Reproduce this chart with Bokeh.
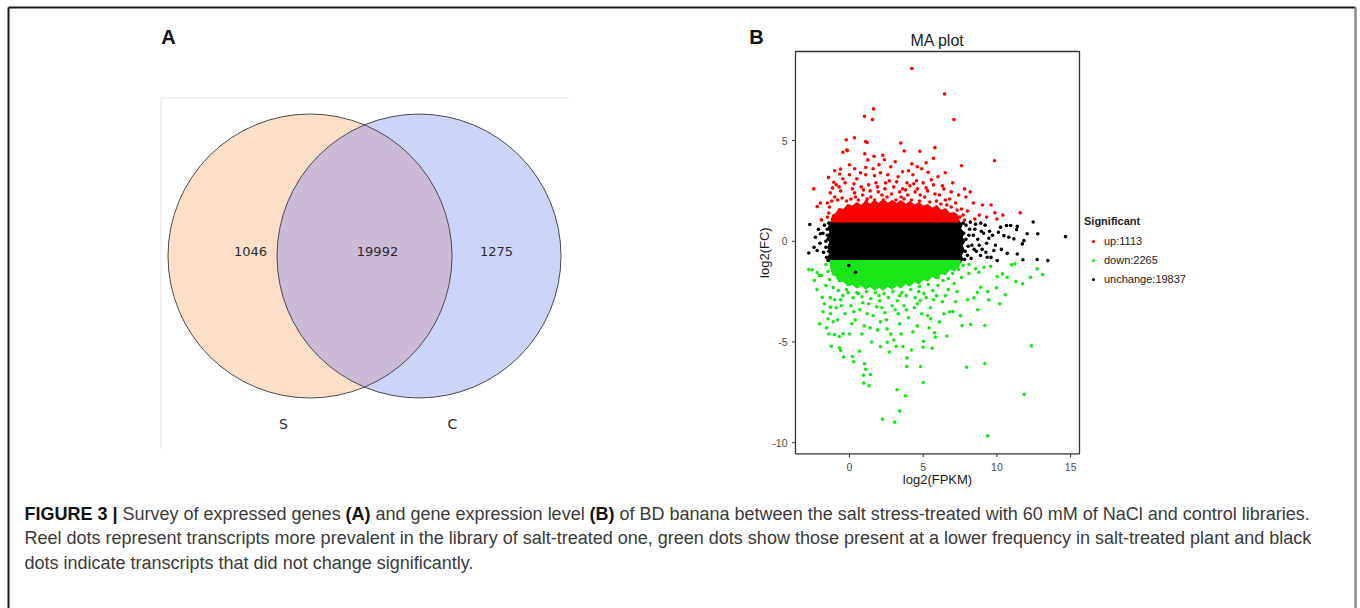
import numpy as np
from bokeh.plotting import figure
from bokeh.models import Range1d, Legend, LegendItem
from bokeh.embed import file_html
from bokeh.resources import INLINE
from bokeh.core.properties import value

# ---------------- data ----------------
venn_sets = ["S", "C"]
venn_counts = [1046, 19992, 1275]          # S only, shared, C only

legend_title = "Significant"
legend_labels = ["up:1113", "down:2265", "unchange:19837"]
x_ticks = [0, 5, 10, 15]
y_ticks = [-10, -5, 0, 5]
x_lim = (-3.66, 15.6)
y_lim = (-10.55, 9.42)

# red (up) points (log2 FPKM, log2 FC)
up_pts = [(4.23, 8.58), (6.45, 7.31), (7.08, 6.04), (1.63, 6.57), (1.02, 6.20), (1.56, 6.04),
          (-0.22, 5.04), (0.34, 5.14), (1.09, 4.95), (1.20, 4.90), (-0.45, 4.42), (-0.18, 4.53),
          (1.04, 4.34), (1.67, 4.22), (1.24, 4.04), (2.26, 4.27), (2.37, 4.05), (3.48, 4.88),
          (3.71, 4.48), (4.23, 3.84), (4.77, 4.47), (5.79, 4.65), (5.70, 4.12), (7.60, 3.75),
          (9.84, 4.00), (0.00, 3.80), (1.11, 3.66), (-1.42, 3.17), (-2.42, 2.60), (5.34, 3.42),
          (7.00, 2.90), (8.19, 2.45), (9.02, 1.80), (9.86, 1.41), (11.58, 1.41), (-2.19, 1.72),
          (-1.97, 1.90), (4.36, 2.85), (-0.15, 4.50), (-0.61, 3.59), (-0.66, 3.34), (-1.06, 2.93),
          (-1.15, 2.65), (-1.90, 1.06),
          (-1.0, 2.2), (-0.6, 2.5), (-0.3, 2.9), (0.2, 2.6), (0.5, 3.1), (0.8, 2.7), (1.1, 3.3),
          (1.4, 2.5), (1.8, 2.9), (2.1, 3.4), (2.4, 2.6), (2.7, 3.0), (3.0, 2.7), (3.3, 3.2),
          (3.6, 2.6), (3.9, 2.9), (4.3, 3.3), (4.6, 2.6), (5.0, 2.9), (5.3, 2.5), (5.7, 2.8),
          (6.1, 2.3), (6.4, 2.6), (6.8, 2.1), (7.2, 1.9), (7.6, 1.6), (8.0, 1.5), (8.4, 1.9),
          (-1.5, 1.9), (-1.3, 2.4), (0.0, 3.3), (1.6, 3.6), (2.8, 3.7), (4.0, 3.5), (4.9, 3.6),
          (6.0, 3.2), (-0.9, 2.8), (2.2, 2.3), (3.5, 2.2), (4.8, 2.3), (0.4, 2.2), (1.2, 2.1),
          (5.9, 2.0), (6.6, 1.8), (7.9, 2.2), (8.8, 1.3), (9.3, 1.2), (10.4, 1.3),
          (-1.2, 2.0), (-0.8, 2.05), (-0.5, 2.15), (-0.2, 2.0), (0.1, 2.1), (0.35, 2.4), (0.6, 2.05),
          (0.9, 2.3), (1.15, 2.0), (1.45, 2.2), (1.7, 2.05), (1.95, 2.45), (2.3, 2.05), (2.55, 2.2),
          (2.85, 2.35), (3.15, 2.05), (3.4, 2.45), (3.7, 2.1), (3.95, 2.3), (4.2, 2.05), (4.45, 2.45),
          (4.75, 2.0), (5.1, 2.2), (5.45, 1.95), (5.8, 2.35), (6.2, 1.85), (6.5, 2.05), (6.9, 1.7),
          (7.3, 1.55), (7.5, 1.2), (7.7, 1.3), (-1.4, 1.4), (-1.5, 1.2), (-1.35, 1.7),
          (-0.7, 2.7), (0.3, 2.85), (0.95, 2.55), (1.3, 2.8), (1.9, 2.7), (2.45, 2.9), (3.2, 2.95),
          (3.8, 2.55), (4.1, 2.75), (4.55, 3.0), (5.2, 2.65), (5.55, 3.05), (6.3, 2.75), (6.9, 2.45),
          (7.4, 2.3), (-0.45, 3.1), (0.75, 3.4), (1.7, 3.25), (2.6, 3.3), (3.6, 3.45), (4.6, 3.7),
          (5.2, 3.9), (-1.0, 3.5), (0.35, 3.6), (2.0, 3.8), (3.1, 3.95), (6.5, 3.4), (7.8, 2.6),
          (8.5, 1.1), (7.8, 1.05), (9.6, 1.8), (10.0, 1.1)]

# green (down) points
down_pts = [(9.36, -9.65), (3.07, -8.98), (2.24, -8.83), (3.41, -8.43), (3.23, -7.37), (3.80, -7.67),
            (5.00, -7.01), (4.82, -6.22), (3.89, -6.22), (7.94, -6.25), (9.18, -6.07), (11.85, -7.60),
            (12.33, -5.19), (0.97, -7.04), (1.33, -7.17), (0.95, -6.65), (1.42, -6.61), (1.02, -6.08),
            (1.09, -6.35), (0.20, -5.72), (0.29, -5.98), (0.68, -5.46), (-0.59, -5.42), (-0.68, -5.29),
            (-0.39, -5.75), (-1.24, -5.21), (-1.02, -4.63), (-0.68, -4.73), (-0.43, -4.59), (-2.04, -4.10),
            (-1.56, -4.30), (2.10, -5.22), (2.56, -5.01), (3.17, -5.21), (3.62, -5.22), (5.02, -4.96),
            (5.00, -5.26), (5.61, -5.31), (5.77, -4.54), (5.83, -4.76), (5.50, -3.85), (7.01, -3.49),
            (7.53, -3.69), (7.64, -4.18), (8.21, -4.13), (9.18, -4.18), (9.45, -2.91), (9.38, -2.50),
            (9.97, -2.31), (10.56, -2.66), (11.29, -2.00), (11.74, -2.11), (13.10, -1.65), (12.73, -1.37),
            (12.28, -1.79), (10.02, -1.75), (10.38, -1.62), (10.70, -1.79), (10.99, -1.17), (11.22, -1.12),
            (8.67, -2.54), (8.44, -2.81), (8.89, -2.28), (9.12, -1.29), (9.57, -1.24), (8.55, -1.37),
            (8.77, -1.54), (-2.53, -1.42), (-2.76, -1.40), (-1.45, -3.85), (-1.29, -3.60), (-1.29, -3.27),
            (-1.70, -3.10), (-1.85, -2.78), (-2.06, -1.70), (-2.19, -1.55), (-2.37, -1.95),
            (-1.6, -2.2), (-1.3, -2.8), (-0.9, -3.3), (-0.6, -2.9), (-0.3, -3.6), (0.1, -3.2),
            (0.4, -3.9), (0.7, -3.4), (1.0, -4.2), (1.3, -3.1), (1.6, -3.7), (1.9, -4.4), (2.2, -3.3),
            (2.5, -3.9), (2.8, -4.6), (3.1, -3.4), (3.4, -4.1), (3.7, -3.2), (4.0, -3.8), (4.3, -4.5),
            (4.6, -3.1), (4.9, -3.6), (5.2, -2.8), (5.5, -3.3), (5.9, -2.7), (6.3, -3.0), (6.7, -2.4),
            (7.1, -2.1), (7.6, -1.8), (8.1, -1.6), (-1.9, -1.7), (-2.2, -2.4), (-1.1, -4.0), (0.0, -4.6),
            (1.5, -5.0), (3.0, -4.9), (4.2, -5.4), (6.1, -4.0), (6.8, -3.5), (8.0, -2.9), (2.0, -2.7),
            (3.4, -2.7), (0.6, -2.6), (-0.2, -2.4), (4.7, -2.5), (6.0, -1.8),
            (-1.45, -1.5), (-1.6, -1.15), (-1.35, -1.9), (-1.1, -2.3), (-0.75, -2.45), (-0.45, -2.7),
            (-0.1, -2.55), (0.25, -2.8), (0.5, -2.55), (0.85, -2.75), (1.15, -2.5), (1.45, -2.85),
            (1.75, -2.55), (2.05, -2.95), (2.35, -2.6), (2.65, -2.8), (2.95, -2.5), (3.25, -2.95),
            (3.55, -2.55), (3.85, -2.7), (4.15, -2.4), (4.45, -2.8), (4.75, -2.25), (5.05, -2.6),
            (5.35, -2.15), (5.65, -2.45), (6.0, -2.2), (6.35, -1.95), (6.7, -1.85), (7.0, -1.6),
            (7.4, -1.4), (7.7, -1.2), (8.1, -1.15),
            (-1.0, -2.9), (-0.55, -3.2), (0.3, -3.5), (0.9, -3.05), (1.2, -3.6), (1.85, -3.25),
            (2.4, -3.55), (2.9, -3.2), (3.3, -3.6), (3.85, -3.4), (4.4, -3.3), (4.8, -2.95), (5.3, -3.7),
            (5.7, -2.9), (6.5, -2.7), (7.3, -2.5), (-0.8, -3.9), (0.15, -4.1), (0.85, -4.6), (1.4, -4.3),
            (2.1, -4.0), (2.55, -4.35), (3.5, -4.6), (4.6, -4.2), (5.4, -4.3), (6.4, -3.6), (7.2, -3.0),
            (-1.8, -3.5), (-1.4, -4.6), (2.7, -5.5), (3.9, -5.8), (6.6, -4.7), (8.7, -3.4), (10.2, -3.1)]

# black (unchanged) points
same_pts = [(14.65, 0.23), (13.45, -0.96), (12.73, -0.91), (12.46, 0.96), (12.77, 0.37), (12.05, 0.37),
            (11.83, 0.03), (11.72, -0.13), (11.38, 0.74), (11.33, 0.58), (11.38, -0.63), (10.70, -0.60),
            (10.93, 0.78), (10.65, 0.78), (10.24, 0.70), (10.81, 0.20), (10.47, 0.28), (11.15, 0.12),
            (11.76, -0.92), (10.02, -0.96), (9.34, -0.79), (9.79, -0.46), (8.89, -0.71), (-2.69, 0.83),
            (-2.76, -0.58), (-2.31, 0.20), (-2.19, -0.46), (-1.97, 0.37), (0.41, -1.54), (-0.05, -1.20),
            (7.9, 0.8), (8.1, 0.3), (8.3, -0.2), (8.0, -0.7), (8.5, 0.6), (8.7, 0.1), (8.6, -0.5),
            (8.9, 0.9), (9.1, 0.4), (9.3, -0.1), (9.0, -0.4), (9.5, 0.5), (9.6, -0.8), (7.8, -0.9),
            (8.2, 0.95), (-1.5, 0.6), (-1.6, -0.3), (-1.45, 0.1), (-1.7, 0.8), (-1.55, -0.8),
            (-2.0, -0.1), (-1.8, 0.4),
            (-1.4, 0.9), (-1.5, 0.3), (-1.4, -0.5), (-1.45, -0.95), (-1.6, 0.0), (-1.75, -0.55),
            (-2.1, 0.6), (-2.4, -0.3), (7.7, 0.9), (7.75, 0.4), (7.85, -0.5), (7.9, 0.1), (8.05, -0.25),
            (8.15, 0.6), (8.25, -0.85), (8.4, 0.3), (8.45, -0.4), (8.55, 0.85), (8.8, -0.2), (8.95, 0.5),
            (9.2, 0.8), (9.25, -0.55), (9.45, 0.15), (9.7, 0.3), (9.9, -0.2), (10.1, 0.45), (10.3, -0.4)]

# ragged envelopes of the densely packed clouds
up_core = [(-1.2, 0.98), (7.4, 0.98), (7.35, 1.25), (7.1, 1.4), (6.8, 1.35), (6.5, 1.6), (6.2, 1.5),
           (5.9, 1.75), (5.6, 1.6), (5.3, 1.8), (5.0, 1.7), (4.7, 1.9), (4.4, 1.75), (4.1, 1.95),
           (3.8, 1.8), (3.5, 2.0), (3.2, 1.85), (2.9, 2.0), (2.6, 1.85), (2.3, 2.05), (2.0, 1.85),
           (1.7, 2.0), (1.4, 1.8), (1.1, 1.95), (0.8, 1.75), (0.5, 1.9), (0.2, 1.7), (-0.1, 1.8),
           (-0.4, 1.55), (-0.7, 1.6), (-0.9, 1.35), (-1.1, 1.3), (-1.2, 1.1)]
same_core = [(-1.25, -1.05), (-1.4, -0.8), (-1.3, -0.55), (-1.45, -0.3), (-1.3, -0.05), (-1.45, 0.2),
             (-1.3, 0.45), (-1.4, 0.7), (-1.25, 0.9), (-1.2, 1.0), (7.4, 1.0), (7.6, 0.8), (7.5, 0.6),
             (7.75, 0.4), (7.6, 0.2), (7.8, 0.0), (7.6, -0.2), (7.75, -0.45), (7.55, -0.7), (7.65, -0.9),
             (7.5, -1.05)]
down_core = [(-1.3, -0.98), (7.5, -0.98), (7.4, -1.25), (7.1, -1.45), (6.8, -1.35), (6.5, -1.65),
             (6.2, -1.55), (5.9, -1.85), (5.6, -1.7), (5.3, -1.95), (5.0, -1.85), (4.7, -2.1),
             (4.4, -1.95), (4.1, -2.2), (3.8, -2.05), (3.5, -2.3), (3.2, -2.15), (2.9, -2.35),
             (2.6, -2.2), (2.3, -2.4), (2.0, -2.25), (1.7, -2.4), (1.4, -2.2), (1.1, -2.35), (0.8, -2.15),
             (0.5, -2.3), (0.2, -2.1), (-0.1, -2.2), (-0.4, -1.95), (-0.7, -2.0), (-0.9, -1.7),
             (-1.1, -1.65), (-1.25, -1.35)]

caption_lines = [
    [("FIGURE 3 |", "bold", 24), ("Survey of expressed genes", "normal", 122), ("(A)", "bold", 345),
     ("and gene expression level", "normal", 375), ("(B)", "bold", 589),
     ("of BD banana between the salt stress-treated with 60 mM of NaCl and control libraries.", "normal", 619)],
    [("Reel dots represent transcripts more prevalent in the library of salt-treated one, green dots show "
      "those present at a lower frequency in salt-treated plant and black", "normal", 24)],
    [("dots indicate transcripts that did not change significantly.", "normal", 24)],
]
caption_y = [513, 537.5, 562]

FONT = "Liberation Sans"
RED, GREEN, BLACK = "#ff0000", "#19e619", "#000000"
EDGE_DARK, EDGE_GREY = "#1a1a1a", "#8a8a8a"

W, H = 1360, 608
# MA panel frame box on the page (pixels)
MA_L, MA_R, MA_T, MA_B = 795.0, 1079.0, 51.0, 453.3

p = figure(width=W, height=H, x_range=Range1d(0, W), y_range=Range1d(H, 0),
           x_axis_type=None, y_axis_type=None, output_backend="svg",
           toolbar_location=None, title=None, min_border=0)
p.outline_line_color = None
p.background_fill_color = "white"
p.border_fill_color = "white"

# data ranges of the MA plot stretched over the whole page so that its frame lands on the box above
sx_ = (MA_R - MA_L) / (x_lim[1] - x_lim[0])
sy_ = (MA_B - MA_T) / (y_lim[1] - y_lim[0])
p.extra_x_ranges = {"ma": Range1d(x_lim[0] - MA_L / sx_, x_lim[1] + (W - MA_R) / sx_)}
p.extra_y_ranges = {"ma": Range1d(y_lim[0] - (H - MA_B) / sy_, y_lim[1] + MA_T / sy_)}

# ---------------- outer figure frame ----------------
p.segment(x0=[8, 8, 1355], y0=[7, 7, 7], x1=[1355, 8, 1355], y1=[7, 608, 608],
          line_color=[EDGE_DARK, EDGE_DARK, EDGE_GREY], line_width=[2, 2, 2.5])
p.text(x=[168, 756], y=[36, 36], text=["A", "B"], text_font=value(FONT), text_font_size="20px",
       text_font_style="bold", text_align="center", text_baseline="middle", text_color="#111111")

# ---------------- Venn (A) ----------------
p.segment(x0=[160.5, 160.5], y0=[97.5, 97.5], x1=[568, 160.5], y1=[97.5, 448],
          line_color="#eceef6", line_width=1.5)
cx = [309.5, 418.5]
cy = 255.5
R = 142.0
p.circle(x=cx, y=[cy, cy], radius=R, fill_color=["#fddfc9", "#cdd4fa"], line_color=None)
a = (cx[1] - cx[0]) / 2.0
th = np.arccos(a / R)
t1 = np.linspace(-th, th, 90)
t2 = np.linspace(np.pi - th, np.pi + th, 90)
lx = np.concatenate([cx[0] + R * np.cos(t1), cx[1] + R * np.cos(t2)])
ly = np.concatenate([cy + R * np.sin(t1), cy + R * np.sin(t2)])
p.patch(lx, ly, fill_color="#cbbad6", line_color=None)
p.circle(x=cx, y=[cy, cy], radius=R, fill_color=None, line_color="#4a4a4a", line_width=1)
p.text(x=[250, 377, 496], y=[251, 251, 251], text=[str(v) for v in venn_counts],
       text_font=value("DejaVu Sans"), text_font_size="13px", text_align="center",
       text_baseline="middle", text_color="#2b2b2b")
p.text(x=[283, 452], y=[423, 423], text=venn_sets, text_font=value("DejaVu Sans"),
       text_font_size="14px", text_align="center", text_baseline="middle", text_color="#2b2b2b")

# ---------------- MA plot (B) ----------------
MA = dict(x_range_name="ma", y_range_name="ma")


def xy(pts):
    return [q[0] for q in pts], [q[1] for q in pts]


for core, col in [(same_core, BLACK), (up_core, RED), (down_core, GREEN)]:
    cxs, cys = xy(core)
    p.patch(cxs, cys, fill_color=col, line_color=col, line_width=2, **MA)

ux, uy = xy(up_pts)
dx, dy = xy(down_pts)
sx, sy = xy(same_pts)
r_up = p.scatter(ux, uy, size=3.6, fill_color=RED, line_color=None, **MA)
r_down = p.scatter(dx, dy, size=3.6, fill_color=GREEN, line_color=None, **MA)
r_same = p.scatter(sx, sy, size=3.6, fill_color=BLACK, line_color=None, **MA)

# panel box
p.quad(left=[x_lim[0]], right=[x_lim[1]], bottom=[y_lim[0]], top=[y_lim[1]],
       fill_color=None, line_color="#333333", line_width=1.3, **MA)

# ticks (x in data units of the MA panel, y in page pixels and vice versa)
p.segment(x0=x_ticks, x1=x_ticks, y0=[MA_B] * len(x_ticks), y1=[MA_B + 3.5] * len(x_ticks),
          line_color="#333333", line_width=1, x_range_name="ma")
p.segment(y0=y_ticks, y1=y_ticks, x0=[MA_L - 3.5] * len(y_ticks), x1=[MA_L] * len(y_ticks),
          line_color="#333333", line_width=1, y_range_name="ma")
p.text(x=x_ticks, y=[MA_B + 13] * len(x_ticks), text=[str(t) for t in x_ticks],
       text_font=value(FONT), text_font_size="10.5px", text_color="#4d4d4d",
       text_align="center", text_baseline="middle", x_range_name="ma")
p.text(y=y_ticks, x=[MA_L - 8] * len(y_ticks), text=[str(t) for t in y_ticks],
       text_font=value(FONT), text_font_size="10.5px", text_color="#4d4d4d",
       text_align="right", text_baseline="middle", y_range_name="ma")

# titles
p.text(x=[(MA_L + MA_R) / 2], y=[40], text=["MA plot"], text_font=value(FONT), text_font_size="16px",
       text_align="center", text_baseline="middle", text_color="#222222")
p.text(x=[(MA_L + MA_R) / 2], y=[479], text=["log2(FPKM)"], text_font=value(FONT), text_font_size="13px",
       text_align="center", text_baseline="middle", text_color="#1a1a1a")
p.text(x=[764], y=[(MA_T + MA_B) / 2], text=["log2(FC)"], text_font=value(FONT), text_font_size="13px",
       text_align="center", text_baseline="middle", text_color="#1a1a1a", angle=np.pi / 2)

leg = Legend(items=[LegendItem(label=legend_labels[0], renderers=[r_up]),
                    LegendItem(label=legend_labels[1], renderers=[r_down]),
                    LegendItem(label=legend_labels[2], renderers=[r_same])],
             title=legend_title, location=(1084, 320))
leg.margin = 0
leg.padding = 10
leg.glyph_width = 18
leg.glyph_height = 8
leg.label_height = 19
leg.label_standoff = 2
leg.spacing = 0
leg.border_line_color = None
leg.background_fill_alpha = 0
leg.label_text_font = FONT
leg.label_text_font_size = "11px"
leg.label_text_color = "#222222"
leg.title_text_font = FONT
leg.title_text_font_size = "11px"
leg.title_text_font_style = "bold"
leg.title_text_color = "#222222"
leg.title_standoff = 4
p.add_layout(leg, "center")

# ---------------- caption ----------------
for yy, segs in zip(caption_y, caption_lines):
    for txt, style, x0 in segs:
        p.text(x=[x0], y=[yy], text=[txt], text_font=value(FONT), text_font_size="18px",
               text_font_style=style, text_align="left", text_baseline="middle",
               text_color="#111111" if style == "bold" else "#3a3a3a")

open("out.html", "w").write(file_html(p, INLINE))
